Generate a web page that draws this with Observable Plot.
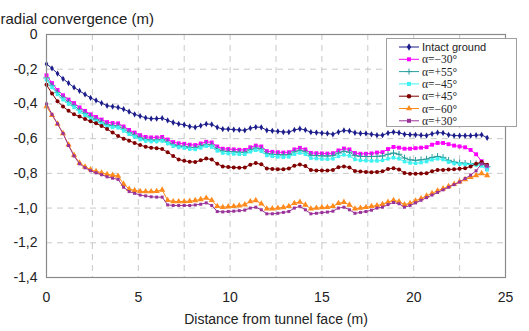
<!DOCTYPE html>
<html>
<head>
<meta charset="utf-8">
<script src="https://cdn.jsdelivr.net/npm/d3@7"></script>
<script src="https://cdn.jsdelivr.net/npm/@observablehq/plot@0.6"></script>
<style>
  html, body { margin: 0; padding: 0; background: #fff; }
  #wrap { position: relative; width: 529px; height: 331px; overflow: hidden; }
  #legend { position: absolute; left: 386px; top: 38px; width: 131px; height: 89px;
            border: 1px solid #a0a0a0; background: #fff; box-sizing: border-box; }
</style>
</head>
<body>
<div id="wrap"><div id="chart"></div><div id="legend"></div></div>
<script>
const distance = [0,0.3,0.6,0.9,1.2,1.5,1.8,2.1,2.4,2.7,3,3.3,3.6,3.9,4.2,4.5,4.8,5.1,5.4,5.7,6,6.3,6.6,6.9,7.2,7.5,7.8,8.1,8.4,8.7,9,9.3,9.6,9.9,10.2,10.5,10.8,11.1,11.4,11.7,12,12.3,12.6,12.9,13.2,13.5,13.8,14.1,14.4,14.7,15,15.3,15.6,15.9,16.2,16.5,16.8,17.1,17.4,17.7,18,18.3,18.6,18.9,19.2,19.5,19.8,20.1,20.4,20.7,21,21.3,21.6,21.9,22.2,22.5,22.8,23.1,23.4,23.7,24];

const intact = [-0.17,-0.195,-0.225,-0.255,-0.28,-0.305,-0.325,-0.345,-0.365,-0.38,
 -0.395,-0.41,-0.415,-0.42,-0.43,-0.445,-0.46,-0.47,-0.48,-0.485,
 -0.485,-0.482,-0.495,-0.507,-0.515,-0.52,-0.53,-0.535,-0.525,-0.515,
 -0.518,-0.535,-0.545,-0.545,-0.548,-0.55,-0.552,-0.54,-0.533,-0.535,
 -0.552,-0.555,-0.558,-0.562,-0.562,-0.55,-0.543,-0.55,-0.563,-0.565,
 -0.568,-0.57,-0.575,-0.562,-0.553,-0.556,-0.566,-0.57,-0.57,-0.575,
 -0.58,-0.58,-0.568,-0.562,-0.566,-0.575,-0.577,-0.578,-0.58,-0.582,
 -0.572,-0.565,-0.567,-0.578,-0.582,-0.583,-0.583,-0.583,-0.58,-0.578,
 -0.595];

const aM30 = [-0.235,-0.28,-0.32,-0.35,-0.375,-0.395,-0.42,-0.44,-0.46,-0.475,
 -0.49,-0.505,-0.51,-0.512,-0.53,-0.55,-0.565,-0.58,-0.59,-0.593,
 -0.593,-0.59,-0.605,-0.62,-0.627,-0.63,-0.635,-0.637,-0.628,-0.618,
 -0.622,-0.645,-0.658,-0.66,-0.662,-0.664,-0.665,-0.65,-0.64,-0.645,
 -0.672,-0.676,-0.678,-0.68,-0.678,-0.662,-0.653,-0.662,-0.682,-0.684,
 -0.685,-0.686,-0.684,-0.668,-0.657,-0.662,-0.683,-0.687,-0.687,-0.685,
 -0.68,-0.678,-0.66,-0.648,-0.652,-0.658,-0.658,-0.655,-0.652,-0.649,
 -0.635,-0.625,-0.625,-0.632,-0.64,-0.645,-0.65,-0.665,-0.69,-0.73,
 -0.775];

const aP55 = [-0.25,-0.295,-0.335,-0.365,-0.39,-0.41,-0.435,-0.455,-0.475,-0.49,
 -0.505,-0.52,-0.525,-0.527,-0.545,-0.565,-0.58,-0.595,-0.605,-0.608,
 -0.608,-0.605,-0.62,-0.635,-0.642,-0.645,-0.65,-0.652,-0.643,-0.633,
 -0.637,-0.66,-0.672,-0.674,-0.676,-0.678,-0.679,-0.664,-0.654,-0.66,
 -0.686,-0.69,-0.692,-0.694,-0.692,-0.676,-0.667,-0.676,-0.696,-0.698,
 -0.699,-0.7,-0.698,-0.683,-0.673,-0.678,-0.698,-0.702,-0.703,-0.703,
 -0.702,-0.7,-0.69,-0.683,-0.69,-0.712,-0.722,-0.725,-0.722,-0.718,
 -0.708,-0.702,-0.708,-0.725,-0.735,-0.74,-0.742,-0.744,-0.745,-0.745,
 -0.762];

const aM45 = [-0.26,-0.305,-0.345,-0.375,-0.4,-0.42,-0.445,-0.465,-0.485,-0.5,
 -0.515,-0.53,-0.535,-0.537,-0.555,-0.575,-0.59,-0.605,-0.613,-0.616,
 -0.616,-0.613,-0.628,-0.643,-0.65,-0.654,-0.66,-0.662,-0.653,-0.643,
 -0.648,-0.67,-0.683,-0.686,-0.688,-0.69,-0.69,-0.676,-0.667,-0.672,
 -0.697,-0.702,-0.705,-0.707,-0.705,-0.69,-0.682,-0.69,-0.712,-0.715,
 -0.717,-0.718,-0.716,-0.702,-0.693,-0.699,-0.72,-0.725,-0.727,-0.728,
 -0.728,-0.725,-0.716,-0.71,-0.716,-0.732,-0.74,-0.742,-0.738,-0.732,
 -0.722,-0.716,-0.72,-0.735,-0.743,-0.746,-0.748,-0.75,-0.752,-0.757,
 -0.78];

const aP45 = [-0.29,-0.34,-0.385,-0.415,-0.44,-0.46,-0.473,-0.487,-0.5,-0.512,
 -0.527,-0.545,-0.565,-0.585,-0.6,-0.612,-0.625,-0.637,-0.647,-0.652,
 -0.655,-0.66,-0.678,-0.7,-0.72,-0.728,-0.733,-0.735,-0.725,-0.715,
 -0.72,-0.745,-0.76,-0.764,-0.766,-0.768,-0.766,-0.75,-0.741,-0.748,
 -0.772,-0.775,-0.776,-0.776,-0.772,-0.756,-0.749,-0.758,-0.781,-0.783,
 -0.784,-0.784,-0.78,-0.765,-0.76,-0.766,-0.786,-0.79,-0.792,-0.793,
 -0.792,-0.788,-0.775,-0.77,-0.778,-0.798,-0.802,-0.802,-0.801,-0.8,
 -0.788,-0.78,-0.78,-0.778,-0.776,-0.774,-0.77,-0.76,-0.745,-0.735,
 -0.75];

const aM60 = [-0.415,-0.465,-0.515,-0.57,-0.635,-0.695,-0.74,-0.762,-0.778,-0.788,
 -0.797,-0.805,-0.81,-0.815,-0.862,-0.89,-0.898,-0.903,-0.905,-0.905,
 -0.903,-0.895,-0.955,-0.962,-0.962,-0.962,-0.96,-0.956,-0.95,-0.942,
 -0.955,-0.99,-0.995,-0.992,-0.99,-0.986,-0.98,-0.962,-0.956,-0.975,
 -1.004,-1.003,-1.0,-0.996,-0.99,-0.972,-0.965,-0.982,-1.004,-1.0,
 -0.997,-0.995,-0.99,-0.972,-0.966,-0.982,-1.004,-1.0,-0.995,-0.99,
 -0.985,-0.978,-0.965,-0.955,-0.963,-0.98,-0.972,-0.958,-0.945,-0.93,
 -0.915,-0.9,-0.888,-0.875,-0.862,-0.848,-0.835,-0.822,-0.812,-0.8,
 -0.812];

const aP30 = [-0.40,-0.46,-0.515,-0.57,-0.64,-0.70,-0.745,-0.768,-0.785,-0.797,
 -0.808,-0.82,-0.828,-0.835,-0.88,-0.905,-0.915,-0.925,-0.93,-0.935,
 -0.937,-0.937,-0.982,-0.985,-0.985,-0.985,-0.985,-0.982,-0.978,-0.97,
 -0.985,-1.02,-1.022,-1.02,-1.018,-1.015,-1.012,-1.0,-0.995,-1.01,
 -1.033,-1.033,-1.03,-1.025,-1.02,-1.0,-0.99,-1.01,-1.033,-1.03,
 -1.026,-1.023,-1.018,-1.0,-0.995,-1.01,-1.03,-1.025,-1.02,-1.012,
 -1.0,-0.995,-0.98,-0.968,-0.975,-0.995,-0.985,-0.97,-0.955,-0.94,
 -0.925,-0.91,-0.895,-0.88,-0.865,-0.85,-0.83,-0.81,-0.785,-0.745,
 -0.755];

const seriesNames = ["Intact ground", "α=−30°", "α=+55°", "α=−45°", "α=+45°", "α=−60°", "α=+30°"];
const seriesValues = [intact, aM30, aP55, aM45, aP45, aM60, aP30];
const seriesColors = ["#1c1c8a", "#ff00ff", "#2a9f9f", "#3ff2f2", "#800000", "#ff8a1c", "#9a3399"];
const seriesSymbols = ["diamond", "square", "plus", "square", "circle", "triangle", "square"];
const seriesR = [1.9, 2.2, 2.3, 2.0, 2.0, 2.3, 1.7];

const xTicks = [0, 5, 10, 15, 20, 25];
const xGrid = [2.5, 5, 7.5, 10, 12.5, 15, 17.5, 20, 22.5];
const yTicks = [0, -0.2, -0.4, -0.6, -0.8, -1, -1.2, -1.4];
const yGrid = [-0.2, -0.4, -0.6, -0.8, -1, -1.2];

const rows = seriesNames.map((name, k) =>
  distance.map((d, i) => ({x: d, y: seriesValues[k][i], s: name})));

const fmtY = d => d === 0 ? "0" : d.toFixed(1).replace(".", ",");

const marks = [
  Plot.gridX(xGrid, {stroke: "#c8c8c8", strokeOpacity: 1, strokeDasharray: "6,5"}),
  Plot.gridY(yGrid, {stroke: "#c8c8c8", strokeOpacity: 1, strokeDasharray: "6,5"}),
  Plot.axisX({ticks: xTicks, tickFormat: d => String(d), tickSize: 0, tickPadding: 15, fontSize: 14, label: null}),
  Plot.axisY({ticks: yTicks, tickFormat: fmtY, tickSize: 0, tickPadding: 9, fontSize: 14, label: null}),
];
rows.forEach((data, k) => {
  marks.push(Plot.line(data, {x: "x", y: "y", stroke: seriesColors[k], strokeWidth: 1}));
  const stroked = seriesSymbols[k] === "plus";
  marks.push(Plot.dot(data, stroked
    ? {x: "x", y: "y", symbol: seriesSymbols[k], stroke: seriesColors[k], r: seriesR[k], strokeWidth: 1}
    : {x: "x", y: "y", symbol: seriesSymbols[k], fill: seriesColors[k], r: seriesR[k], stroke: "none"}));
});
marks.push(Plot.frame({stroke: "#8a8a8a", strokeWidth: 1.2}));
marks.push(Plot.text(["radial convergence (m)"], {frameAnchor: "top-left", dx: -46, dy: -21, textAnchor: "start", fontSize: 15, fill: "#222"}));
marks.push(Plot.text(["Distance from tunnel face (m)"], {frameAnchor: "bottom", dy: 46, fontSize: 14, fill: "#222"}));

const chart = Plot.plot({
  width: 529, height: 331,
  marginLeft: 46, marginRight: 24, marginTop: 34, marginBottom: 54,
  style: {fontFamily: "'Liberation Sans', Arial, sans-serif", fontSize: "14px", color: "#222", background: "#fff"},
  x: {domain: [0, 25]},
  y: {domain: [-1.4, 0]},
  marks
});
document.getElementById("chart").appendChild(chart);

// legend
const lg = d3.select("#legend").append("svg").attr("width", 129).attr("height", 87)
  .style("display", "block");
const typeMap = {diamond: d3.symbolDiamond, square: d3.symbolSquare, circle: d3.symbolCircle, triangle: d3.symbolTriangle};
seriesNames.forEach((name, k) => {
  const cy = 8 + k * 12.3;
  const g = lg.append("g");
  g.append("line").attr("x1", 12).attr("x2", 32).attr("y1", cy).attr("y2", cy)
    .attr("stroke", seriesColors[k]).attr("stroke-width", 1);
  if (seriesSymbols[k] === "plus") {
    g.append("path").attr("d", `M19,${cy}h6M22,${cy - 3}v6`).attr("stroke", seriesColors[k]).attr("fill", "none");
  } else {
    const sym = d3.symbol().type(typeMap[seriesSymbols[k]]).size(16);
    g.append("path").attr("d", sym()).attr("transform", `translate(22,${cy})`).attr("fill", seriesColors[k]);
  }
  g.append("text").attr("x", 35).attr("y", cy).attr("dy", "0.35em")
    .attr("font-family", k === 0 ? "'Liberation Sans', Arial, sans-serif" : "'Liberation Serif', 'Times New Roman', serif")
    .attr("font-size", k === 0 ? 11 : 11.5).attr("fill", "#222").text(name);
});
</script>
</body>
</html>
